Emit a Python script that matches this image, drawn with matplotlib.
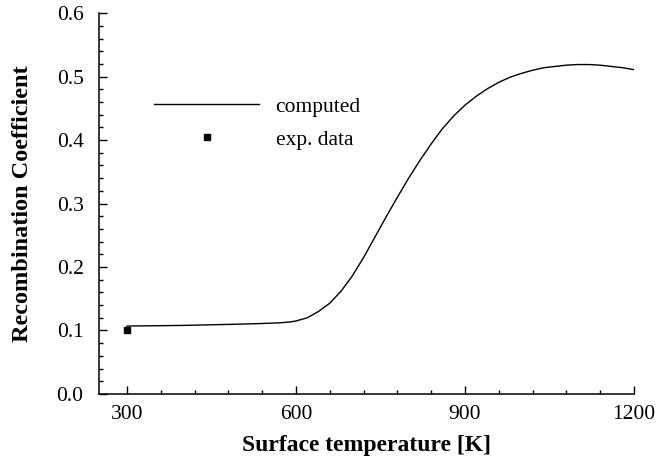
import matplotlib
matplotlib.use("Agg")
import matplotlib.pyplot as plt
from matplotlib.ticker import MultipleLocator, FormatStrFormatter

plt.rcParams['font.family'] = ['Liberation Serif', 'DejaVu Serif']

# computed recombination coefficient vs surface temperature
temp = [300, 400, 500, 540, 570, 590, 600, 620, 640, 660, 680, 700, 720, 740,
        760, 780, 800, 820, 840, 860, 880, 900, 920, 940, 960, 980, 1000,
        1020, 1040, 1060, 1080, 1100, 1120, 1140, 1160, 1180, 1200]
gamma = [0.107, 0.108, 0.110, 0.111, 0.112, 0.1135, 0.115, 0.120, 0.130,
         0.143, 0.162, 0.186, 0.215, 0.247, 0.279, 0.310, 0.340, 0.368,
         0.394, 0.418, 0.438, 0.455, 0.469, 0.481, 0.491, 0.499, 0.505,
         0.510, 0.514, 0.516, 0.518, 0.519, 0.519, 0.518, 0.516, 0.514, 0.511]

# experimental point
exp_temp = [300]
exp_gamma = [0.1]

fig = plt.figure(figsize=(6.59, 4.69), dpi=100)
ax = fig.add_axes([0.150, 0.160, 0.812, 0.812])

ax.plot(temp, gamma, color='black', lw=1.0, label='computed')
ax.plot(exp_temp, exp_gamma, ls='none', marker='s', ms=4.8, color='black',
        label='exp. data')

ax.set_xlim(250, 1200)
ax.set_ylim(0, 0.6)
ax.set_xticks([300, 600, 900, 1200])
ax.xaxis.set_minor_locator(MultipleLocator(60))
ax.yaxis.set_major_locator(MultipleLocator(0.1))
ax.yaxis.set_minor_locator(MultipleLocator(0.02))
ax.yaxis.set_major_formatter(FormatStrFormatter('%.1f'))

ax.spines['top'].set_visible(False)
ax.spines['right'].set_visible(False)
ax.spines['left'].set_linewidth(1.1)
ax.spines['bottom'].set_linewidth(1.1)

ax.tick_params(which='both', direction='in', width=1.0, labelsize=15.5)
ax.tick_params(which='major', length=5.5)
ax.tick_params(which='minor', length=3)
ax.tick_params(axis='y', pad=11)
ax.tick_params(axis='x', pad=8)

ax.set_xlabel('Surface temperature [K]', fontsize=17, fontweight='bold')
ax.set_ylabel('Recombination Coefficient', fontsize=17.5, fontweight='bold')
ax.xaxis.set_label_coords(0.5, -0.108)
ax.yaxis.set_label_coords(-0.123, 0.5)

ax.legend(loc='upper left', bbox_to_anchor=(0.103, 0.78), frameon=False,
          fontsize=15.5, handlelength=4.9, handletextpad=0.75, labelspacing=0.6,
          borderpad=0, borderaxespad=0)

fig.savefig('out.png', dpi=100)
